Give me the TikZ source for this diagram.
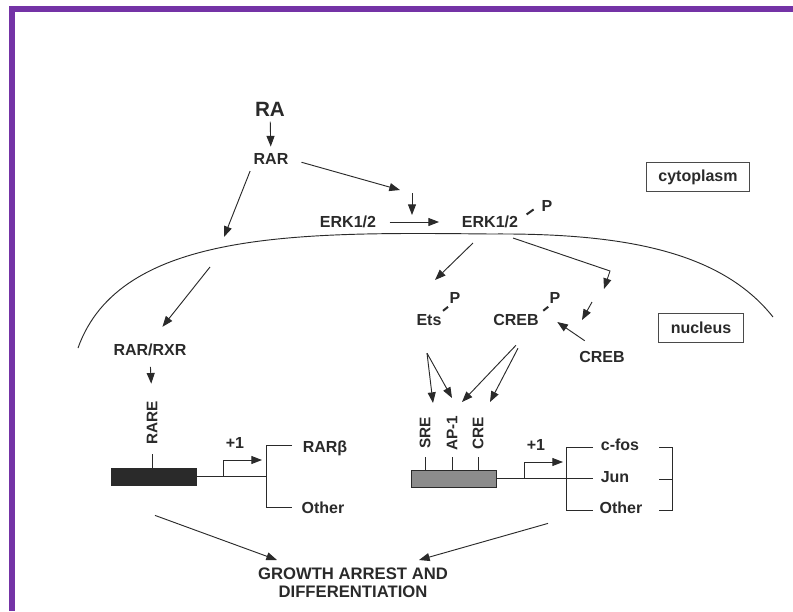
\documentclass[tikz,border=0pt]{standalone}
\usepackage{fontspec}
\setmainfont{Liberation Sans}
\usetikzlibrary{arrows.meta}
\definecolor{rim}{HTML}{7433A6}
\definecolor{ink}{HTML}{2A2A2A}
\definecolor{gene}{HTML}{8C8C8C}
\tikzset{
  lab/.style={font=\bfseries\fontsize{12}{13.5}\selectfont,color=ink,inner sep=1pt},
  big/.style={font=\bfseries\fontsize{15.5}{18}\selectfont,color=ink,inner sep=1pt},
  site/.style={lab,rotate=90,font=\bfseries\fontsize{11.5}{13}\selectfont},
  tag/.style={lab,draw=ink!85,line width=0.7pt,inner xsep=9pt,minimum height=22pt},
  gbox/.style={draw=ink,line width=0.6pt,minimum width=63.75pt,minimum height=12.75pt,inner sep=0pt},
  arr/.style={-{Triangle[length=8pt,width=6pt]},line width=0.7pt,color=ink},
  ln/.style={line width=0.7pt,color=ink},
  phos/.style={line width=1.5pt,color=ink},
  rimline/.style={draw=rim,line width=4.5pt}}
\begin{document}
\begin{tikzpicture}[x=0.75pt,y=-0.75pt]
\useasboundingbox (0,0) rectangle (793,611);
\draw[rimline] (12,611) -- (12,9) -- (793,9);

% cytoplasm side
\node[big] (ra) at (270,109) {RA};
\node[lab] (rar) at (271,159) {RAR};
\node[lab] (erka) at (348,222) {ERK1/2};
\node[lab] (erkb) at (490,222) {ERK1/2};
\node[lab] (perk) at (547,206) {P};
\node[tag] (cyto) at (698,177) {cytoplasm};
\node[tag] (nuc) at (701,328) {nucleus};

% nuclear envelope
\draw[ln] (78,348) .. controls (120,230) and (300,232) .. (490,234)
  .. controls (620,233) and (720,250) .. (773,317);

% nucleus side
\node[lab] (rxr) at (150,350) {RAR/RXR};
\node[site] (rare) at (152,423) {RARE};
\node[lab] (ets) at (429,320) {Ets};
\node[lab] (pets) at (455,298) {P};
\node[lab] (creb) at (516,320) {CREB};
\node[lab] (pcreb) at (555,298) {P};
\node[lab] (crebn) at (602,357) {CREB};
\node[site] (sre) at (425,433) {SRE};
\node[site] (ap) at (452,433) {AP-1};
\node[site] (cre) at (478,433) {CRE};

% genes
\node[gbox,fill=ink] (raregene) at (153.5,476.5) {};
\node[gbox,fill=gene] (fosgene) at (454,478.5) {};
\node[lab] (one1) at (235,443) {+1};
\node[lab] (one2) at (536,445) {+1};
\node[lab] (rarb) at (325,448) {RARβ};
\node[lab] (oth1) at (323,508) {Other};
\node[lab] (fos) at (620,445) {c-fos};
\node[lab] (jun) at (615,477) {Jun};
\node[lab] (oth2) at (621,508) {Other};
\node[lab,font=\bfseries\fontsize{12.5}{13.5}\selectfont,align=center] (growth) at (353,583) {GROWTH ARREST AND\\DIFFERENTIATION};

\coordinate (k1) at (400,190);
\coordinate (k2) at (412,193);
\coordinate (k3) at (412,215);
\coordinate (m1) at (224,237);
\coordinate (m2) at (210,267);
\coordinate (e1) at (473,243);
\coordinate (e2) at (435,280);
\coordinate (c1) at (513,238);
\coordinate (c2) at (610,271);
\coordinate (c3) at (604,289);
\coordinate (c4) at (592,302);
\coordinate (c5) at (582,320);
\coordinate (tsre) at (433,403);
\coordinate (tap1) at (452,398);
\coordinate (tap2) at (462,402);
\coordinate (tcre) at (490,402);
\coordinate (bk1) at (266,476.5);
\coordinate (tss1) at (262,460);
\coordinate (junend) at (593,478.5);
\coordinate (tss2) at (563,462);
\coordinate (gl) at (277,560);
\coordinate (gr) at (419,560);

\draw[arr,shorten <=3pt,shorten >=4pt] (ra) -- (rar);
\draw[arr,shorten <=9pt] (rar.east) -- (k1);
\draw[arr] (k2) -- (k3);
\draw[arr,shorten <=9pt,shorten >=16pt] (erka) -- (erkb);
\draw[phos] ([shift={(7,0)}]erkb.north east) -- ++(7,-5);
\draw[arr,shorten <=4pt] (rar.south west) -- (m1);
\draw[arr,shorten >=15pt] (m2) -- (rxr.north);
\draw[arr,shorten <=7pt,shorten >=12pt] (rxr.south) -- (rare.east);
\draw[arr] (e1) -- (e2);
\draw[arr] (c1) -- (c2) -- (c3);
\draw[arr] (c4) -- (c5);
\draw[arr] ([shift={(7,-9)}]crebn.north west) -- ([shift={(17,2)}]creb.east);
\draw[phos] ([shift={(0,-2)}]ets.north east) -- ++(5,-4);
\draw[phos] ([shift={(3,-2)}]creb.north east) -- ++(5,-4);
\draw[arr] ([shift={(-2,26)}]ets.south) -- (tsre);
\draw[arr] ([shift={(-2,26)}]ets.south) -- (tap1);
\draw[arr] ([shift={(0,18)}]creb.south) -- (tap2);
\draw[arr] ([shift={(2,21)}]creb.south) -- (tcre);

% RAR beta promoter
\draw[ln] (rare.west |- raregene.north) -- ++(0,-14);
\draw[ln] (raregene.east) -- (bk1);
\draw[arr] ([xshift=20pt]raregene.east) |- (tss1);
\draw[ln] (292,445) -- (266,445) -- (266,507) -- (292,507);

% c-fos promoter
\draw[ln] (sre.west |- fosgene.north) -- ++(0,-13);
\draw[ln] (ap.west |- fosgene.north) -- ++(0,-13);
\draw[ln] (cre.west |- fosgene.north) -- ++(0,-13);
\draw[ln] (fosgene.east) -- (junend);
\draw[arr] ([xshift=21pt]fosgene.east) |- (tss2);
\draw[ln] (593,447) -- (566,447) -- (566,510) -- (593,510);
\draw[ln] (659,447) -- (672,447) -- (672,510) -- (659,510);
\draw[ln] (659,479) -- (672,479);

\draw[arr] ([shift={(1.5,30)}]raregene.south) -- (gl);
\draw[arr] ([shift={(94,36)}]fosgene.south) -- (gr);
\end{tikzpicture}
\end{document}
